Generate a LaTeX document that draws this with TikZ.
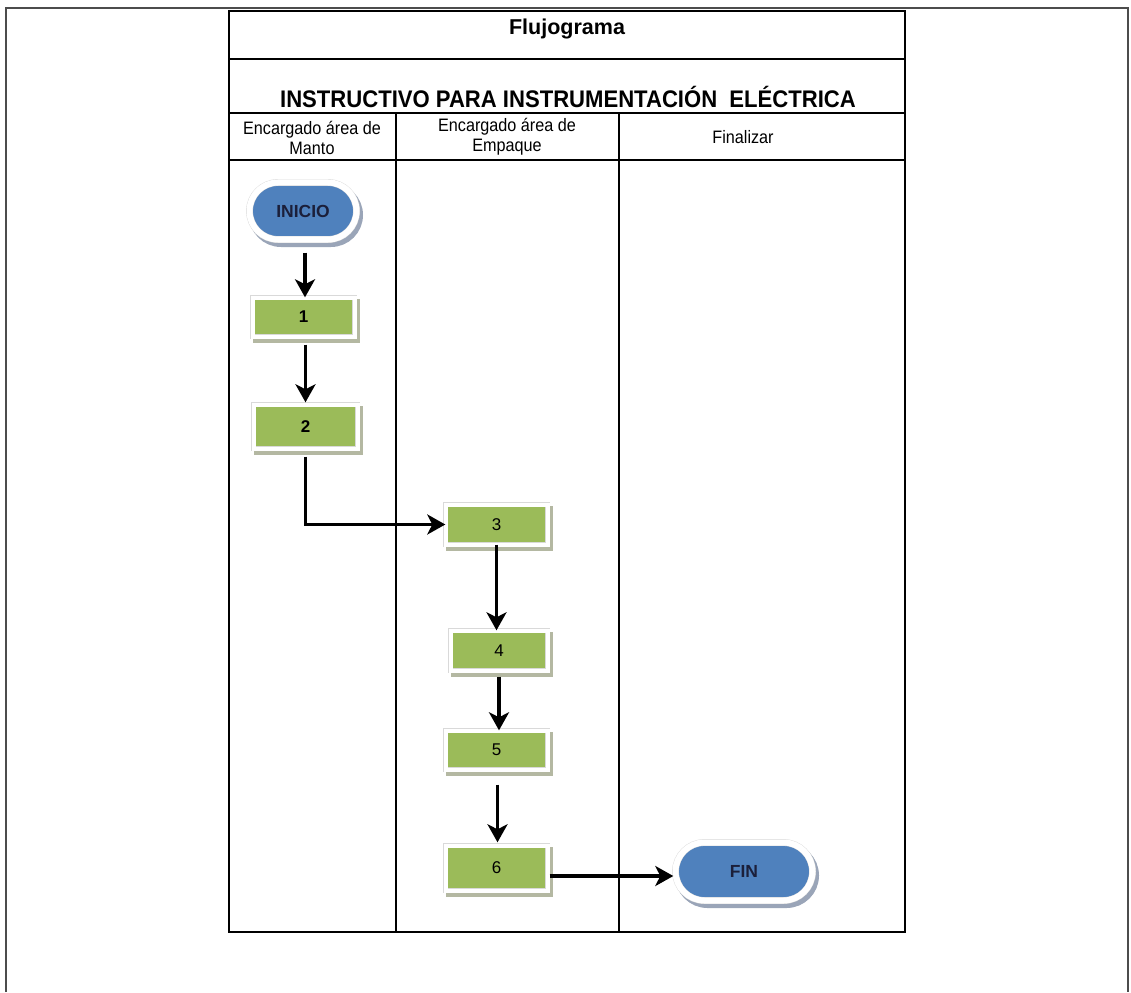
\documentclass[tikz,border=0pt]{standalone}
\usepackage{fontspec}
\setmainfont{Liberation Sans}
\newfontfamily\narrowfont[FakeStretch=0.9]{Liberation Sans}
\newfontfamily\titlefont[FakeStretch=0.92]{Liberation Sans}
\usetikzlibrary{shapes.misc,shadows,arrows.meta,positioning,calc}
\definecolor{verde}{HTML}{9BBB59}
\definecolor{azul}{HTML}{4F81BD}
\definecolor{azuloscuro}{HTML}{1B1F3A}
\definecolor{sombraverde}{HTML}{B4B8A2}
\definecolor{sombraazul}{HTML}{9AA5B8}

\begin{document}
\begin{tikzpicture}[x=1pt,y=-1pt,
    linea/.style={line width=1.2pt},
    caja/.style={rectangle,fill=verde,draw=gray!30,double=white,double distance=4pt,inner sep=0pt,
      drop shadow={shadow xshift=3pt,shadow yshift=-4pt,fill=sombraverde,draw=sombraverde,line width=5pt,opacity=1}},
    terminal/.style={rounded rectangle,fill=azul,draw=gray!30,double=white,double distance=6pt,inner sep=0pt,
      text=azuloscuro,font=\fontsize{17.5}{17.5}\selectfont\bfseries,
      drop shadow={shadow xshift=3pt,shadow yshift=-4pt,fill=sombraazul,draw=sombraazul,line width=7pt,opacity=1}},
    flecha/.style={line width=3.6pt,-{Stealth[length=18pt,width=20pt,inset=5pt]}}]
  \useasboundingbox (0,0) rectangle (1131,992);

  % marco exterior
  \draw[gray!60!black,line width=1.6pt] (6,992) -- (6,8) -- (1128,8) -- (1128,992);

  % tabla
  \begin{scope}
    \coordinate(NW)at(229,11);\coordinate(SE)at(905,932);
    \coordinate(C1)at(396,113);\coordinate(C2)at(619,113);
    \draw[linea] (NW) rectangle (SE);
    \draw[line width=2pt] (NW) -- (NW-|SE) (SE) -- (SE-|NW);
    \draw[linea] (229,59) -- (905,59) (229,113) -- (905,113) (229,160) -- (905,160)
                 (C1) -- (C1|-SE) (C2) -- (C2|-SE);
    % \draw[linea] (229,61) -- (905,61);

    \node[font=\fontsize{21.5}{21.5}\selectfont\bfseries] (flujo) at (567,29) {Flujograma};
    \node[font=\titlefont\fontsize{24}{24}\selectfont\bfseries] (titulo) at (568,97) {INSTRUCTIVO PARA INSTRUMENTACIÓN\ \ ELÉCTRICA};
    \foreach \n/\x/\y/\t in {manto/312/138/Encargado área de\\Manto,
                             empaque/507/137/Encargado área de\\Empaque,
                             final/743/137/Finalizar}{
      \node[font=\narrowfont\fontsize{18}{20}\selectfont,align=center,inner sep=0pt] (\n) at (\x,\y) {\t};
    }
  \end{scope}

  % nodos del flujo
  \node[terminal,minimum width=107pt,minimum height=57pt] (inicio) at (303,211) {INICIO};
  \foreach \n/\x/\y/\w/\h/\f in {1/303.5/317/102/39/\bfseries,
                                 2/305.5/426.5/104/44/\bfseries,
                                 3/496.5/524.5/102/40/,
                                 4/499/650.5/97/40/,
                                 5/496.5/750/102/39/,
                                 6/496.5/868/102/45/}{
    \node[caja,minimum width=\w pt,minimum height=\h pt,font=\fontsize{17}{17}\selectfont\f] (b\n) at (\x,\y) {\n};
  }
  \node[terminal,minimum width=137pt,minimum height=58pt] (fin) at (744,871.5) {FIN};

  % conectores
  \draw[flecha,shorten <=13pt] ([xshift=2pt]inicio.south) -- ([xshift=2pt]inicio.south|-b1.north);
  \draw[flecha,shorten <=8pt,shorten >=2pt] ([xshift=2pt]b1.south) -- ([xshift=2pt]b1.south|-b2.north);
  \draw[flecha,shorten <=8pt] (b2.south) |- (b3.west);
  \draw[flecha] (b3.south) -- (b3.south|-b4.north);
  \draw[flecha,shorten <=6pt] (b4.south) -- (b4.south|-b5.north);
  \draw[flecha,shorten <=15pt,shorten >=3pt] ([xshift=1pt]b5.south) -- ([xshift=1pt]b5.south|-b6.north);
  \draw[flecha,shorten <=2pt,shorten >=2pt] ([yshift=-8pt]b6.east) -- ([yshift=-8pt]b6.east-|fin.west);
\end{tikzpicture}
\end{document}
